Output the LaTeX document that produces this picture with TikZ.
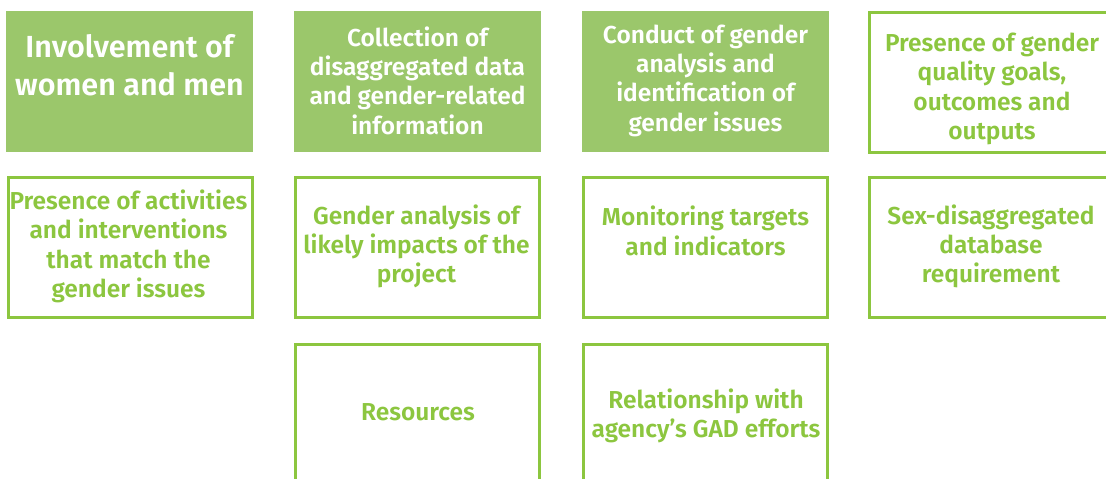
\documentclass[tikz,border=0pt]{standalone}
\usepackage{fontspec}
\setmainfont{Fira Sans}[BoldFont={Fira Sans SemiBold}]
\definecolor{leaf}{HTML}{9BC76B}
\definecolor{lime}{HTML}{8CC63F}
\begin{document}
\begin{tikzpicture}[x=1pt,y=-1pt,
  solidbox/.style={draw=none,fill=leaf,minimum width=247pt,minimum height=141pt,inner sep=0pt},
  framebox/.style={draw=lime,line width=3pt,fill=white,minimum width=244pt,minimum height=140pt,inner sep=0pt},
  headtext/.style={text=white,font=\bfseries\fontsize{24.5}{29.3}\selectfont,align=center,inner sep=0pt},
  bigtext/.style={text=white,font=\bfseries\fontsize{30.5}{38}\selectfont,align=center,inner sep=0pt},
  bodytext/.style={text=lime,font=\bfseries\fontsize{24.5}{29.3}\selectfont,align=center,inner sep=0pt}]
\useasboundingbox (0,0) rectangle (1106,479);
\clip (0,0) rectangle (1106,479);
% top row
\node[solidbox] (b11) at (129.5,81.5) {};
\node[solidbox] (b12) at (417.5,81.5) {};
\node[solidbox] (b13) at (705.5,81.5) {};
\node[framebox] (b14) at (991.5,82) {};
% middle row
\node[framebox] (b21) at (130,247.5) {};
\node[framebox] (b22) at (417.5,247.5) {};
\node[framebox] (b23) at (705.5,247.5) {};
\node[framebox] (b24) at (991.5,247.5) {};
% bottom row
\node[framebox] (b32) at (417.5,414.5) {};
\node[framebox] (b33) at (705.5,414.5) {};
% texts
\node[bigtext] (t11) at (129.5,65.5) {Involvement of\\women and men};
\node[headtext] (t12) at (417.5,80.5) {Collection of\\disaggregated data\\and gender-related\\information};
\node[headtext] (t13) at (705.5,80.5) {Conduct of gender\\analysis and\\identification of\\gender issues};
\node[bodytext] (t14) at (992,89) {Presence of gender\\quality goals,\\outcomes and\\outputs};
\node[bodytext] (t21) at (128.5,246.5) {Presence of activities\\and interventions\\that match the\\gender issues};
\node[bodytext] (t22) at (416.5,246.5) {Gender analysis of\\likely impacts of the\\project};
\node[bodytext] (t23) at (705.5,231) {Monitoring targets\\and indicators};
\node[bodytext] (t24) at (991,246.5) {Sex-disaggregated\\database\\requirement};
\node[bodytext] (t32) at (418,412.5) {Resources};
\node[bodytext] (t33) at (706,416) {Relationship with\\agency’s GAD efforts};
\end{tikzpicture}
\end{document}
